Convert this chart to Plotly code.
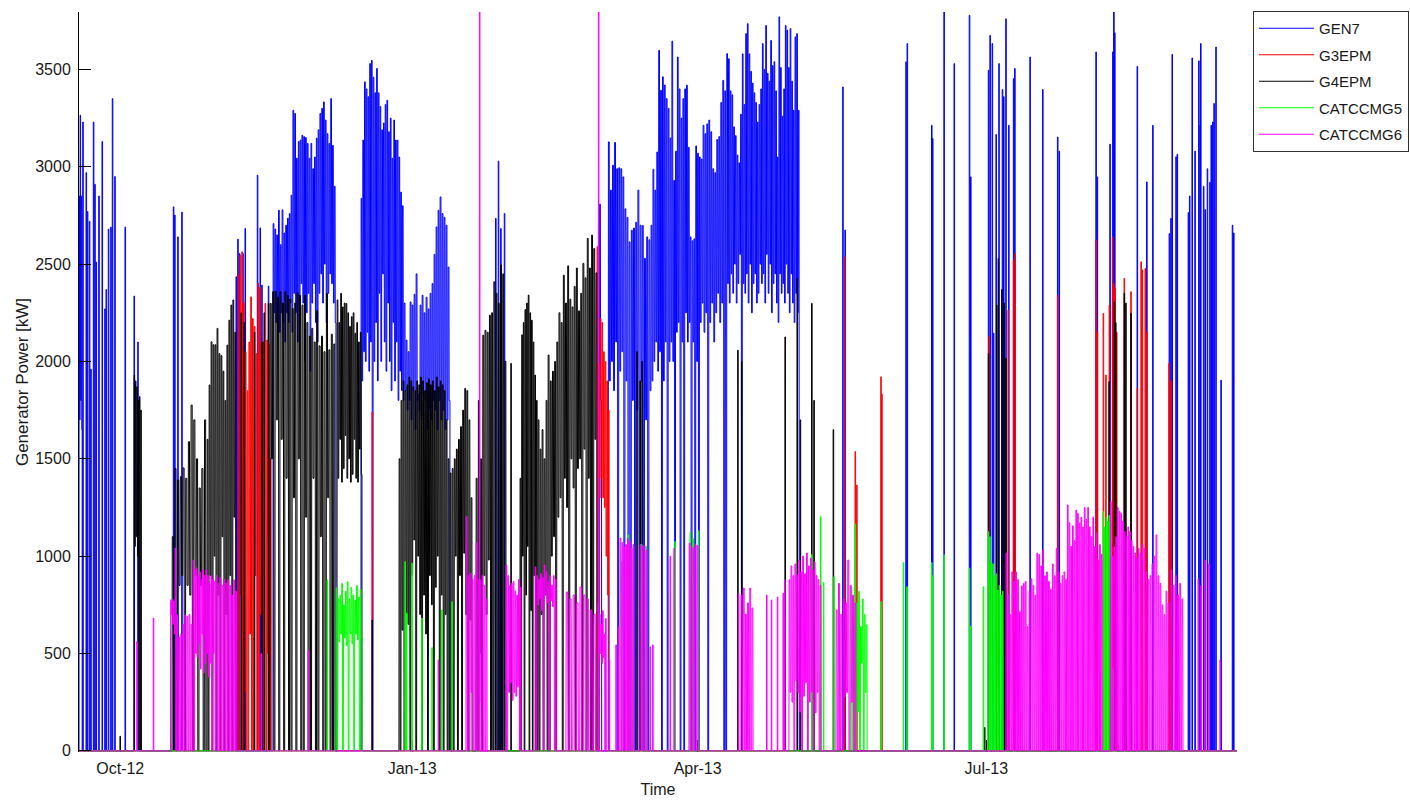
import pandas as pd
import plotly.graph_objects as go

# ---------------- axis / label data ----------------
BASE_DATE = "2012-09-18"          # left edge of the time axis
SPAN_DAYS = 365.0                 # axis spans one year
SERIES = ["GEN7", "G3EPM", "G4EPM", "CATCCMG5", "CATCCMG6"]
COLORS = ["#0000FF", "#FF0000", "#000000", "#00FF00", "#FF00FF"]
TICK_DATES = ["2012-10-01", "2013-01-01", "2013-04-01", "2013-07-01"]
TICK_TEXT = ["Oct-12", "Jan-13", "Apr-13", "Jul-13"]
Y_TICKS = [0, 500, 1000, 1500, 2000, 2500, 3000, 3500]
Y_MAX = 3795

# ---------------- GEN7 (blue) ----------------
# isolated runs: day offset from BASE_DATE, peak kW
GEN7_SPIKE_DAY = [1.17, 2.21, 2.62, 3.25, 3.69, 4.51, 4.95, 5.36, 6.21, 7.25,
                  8.10, 8.51, 9.23, 9.99, 10.49, 11.25, 14.50, 17.33, 18.50, 29.72,
                  30.13, 31.11, 32.37, 49.48, 50.02, 50.52, 51.59, 52.32, 56.19, 57.04,
                  57.58, 59.66, 131.29, 132.14, 132.90, 134.04, 240.7, 241.4, 260.6, 261.0,
                  268.7, 269.0, 272.6, 275.8, 280.6, 281.0, 286.6, 287.1, 287.8, 288.2,
                  289.0, 289.9, 291.0, 291.4, 292.1, 293.0, 294.5, 294.9, 299.7, 303.7,
                  308.4, 308.9, 320.5, 320.9, 324.9, 325.8, 326.1, 326.4, 333.5, 336.5,
                  338.4, 343.6, 344.1, 344.5, 345.7, 346.1, 349.6, 350.0, 350.8, 351.7,
                  352.9, 353.3, 353.5, 354.4, 354.9, 355.6, 356.4, 356.8, 357.3, 357.7,
                  358.3, 359.9, 363.5, 363.9]
GEN7_SPIKE_KW = [3230, 2970, 2770, 2720, 1960, 3230, 2910, 2510, 2850, 3130,
                 2270, 2370, 2680, 2690, 3350, 2950, 2690, 2336, 2100, 2794,
                 2752, 2640, 2767, 2435, 2628, 2555, 2555, 2683, 2957, 2686,
                 2392, 2387, 2735, 3029, 2683, 2760, 3410, 2675, 3539, 3633,
                 3213, 3145, 3795, 3530, 3778, 2948, 3496, 3675, 3633, 2145,
                 3166, 3530, 3397, 3360, 3760, 3213, 3453, 3505, 3564, 3397,
                 3153, 3080, 3590, 2948, 3116, 3590, 3795, 3688, 3516, 2922,
                 3213, 2657, 2735, 3577, 3051, 3064, 2765, 2850, 3559, 3080,
                 3544, 3213, 3633, 2900, 2780, 2990, 2920, 3213, 3230, 3325,
                 3615, 1904, 2700, 2660]

# continuous running periods: row edges (days), peaks and troughs per row
GEN7_B0_DAYS = [0.0, 1.0]
GEN7_B0_PEAK = [[2850, 3265, 2850]]
GEN7_B0_LOW = [[1700, 1800, 1650]]

GEN7_B1_DAYS = [61.14, 81.0]
GEN7_B1_PEAK = [[2708, 2680, 2650, 2777, 2600, 2779, 2660, 2700, 2736, 2760,
                 2854, 3290, 3274, 3044, 3130, 3137, 3162, 3155, 3150, 3120,
                 3044, 3120, 2990, 3050, 3147, 3190, 3274, 3300, 3333, 3240,
                 3170, 3120, 3350, 3110, 2900]]
GEN7_B1_LOW = [[2250, 2200, 2300, 2150, 2250, 2200, 2100, 2250, 2200, 2300,
                2150, 2350, 2250, 2100, 2200, 2400, 2300, 2000, 2250, 2350,
                1950, 2300, 2400, 2200, 2100, 2350, 2450, 2300, 2500, 2200,
                2350, 2450, 2400, 2300, 2200]]

GEN7_B2_DAYS = [88.87, 102.43, 116.92]
GEN7_B2_PEAK = [[2838, 3137, 3436, 3400, 3360, 3530, 3547, 3460, 3380, 3505,
                 3380, 3310, 3190, 3225, 3320, 3342, 3180, 3250, 3044, 3240,
                 3137, 3137, 3050, 2870, 2800],
                [2300, 2110, 2050, 2306, 2290, 2345, 2450, 1830, 2290, 2340,
                 2250, 2330, 2270, 2350, 2400, 2550, 2691, 2777, 2845, 2760,
                 2740, 2700, 2485]]
GEN7_B2_LOW = [[1900, 2050, 2000, 2150, 1950, 2100, 0, 2000, 2200, 1900,
                2350, 2000, 2450, 2100, 1950, 2300, 2000, 1850, 2200, 1900,
                2100, 1800, 1950, 1850, 1800],
               [1850, 1750, 1800, 1700, 1850, 1650, 1800, 1750, 1700, 1850,
                1800, 1650, 1750, 1700, 1800, 1750, 1650, 1800, 1700, 1750,
                1650, 1700, 1800]]

GEN7_B3_DAYS = [163.98, 166.81, 173.34, 180.27, 186.26, 192.03, 197.83,
                204.13, 209.58, 214.84, 220.08, 225.12, 227.23]
GEN7_B3_PEAK = [[2808, 0, 0, 0],
                [3128, 2880, 3008, 3125, 2990, 2995, 2990, 2948, 2784, 2740],
                [2614, 2674, 2685, 2715, 2880, 2700, 2698, 2530, 2640, 2625],
                [2700, 2987, 2880, 3076, 3598, 3393, 3462, 3420, 3350, 3300],
                [3148, 3645, 2930, 3080, 3564, 3400, 3250, 3350, 3400, 3419],
                [3100, 2640, 2620, 2630, 3107, 3070, 3050, 3040, 3213, 3170],
                [3220, 3240, 3180, 2990, 2970, 3140, 3155, 3330, 3444, 3390],
                [3581, 3555, 3390, 3370, 3205, 3160, 3060, 3020, 3270, 3580],
                [3320, 3684, 3735, 3580, 3490, 3430, 3380, 3330, 3230, 3320],
                [3400, 3633, 3500, 3726, 3480, 3440, 3649, 3520, 3540, 3390],
                [3050, 3770, 3510, 3260, 3400, 3726, 3702, 3510, 3710, 3440],
                [3290, 3667, 3684, 3290]]
GEN7_B3_LOW = [[1800, 0, 0, 0],
               [1900, 2000, 1850, 2100, 0, 1950, 2050, 0, 1900, 0],
               [0, 1800, 0, 1750, 0, 1900, 0, 1700, 0, 1850],
               [1900, 2000, 2100, 1950, 2050, 0, 1900, 2100, 0, 2000],
               [2100, 2000, 0, 2150, 2200, 0, 2100, 0, 2250, 2100],
               [2200, 0, 2100, 0, 2000, 0, 2200, 2300, 2150, 2250],
               [0, 2200, 2300, 2100, 2250, 2350, 2200, 2300, 0, 0],
               [2400, 2300, 2450, 2350, 2500, 2300, 2400, 2550, 0, 2400],
               [2350, 2450, 2300, 2500, 2250, 2400, 2450, 2300, 2350, 2500],
               [2400, 2450, 2300, 2550, 2350, 2500, 2250, 2400, 2450, 2300],
               [2200, 2450, 2350, 2400, 2300, 2500, 2350, 2250, 2450, 2300],
               [2200, 2350, 2250, 0]]

# ---------------- G3EPM (red) ----------------
G3_SPIKE_DAY = [92.34, 241.3, 244.6, 245.1, 252.7, 253.0, 286.8, 292.8, 294.5, 295.0,
                308.4, 320.5, 320.9, 322.8, 323.6, 324.7, 325.7, 326.1, 326.5, 327.0,
                329.4, 331.5, 333.5, 334.7, 335.1, 336.0, 336.5, 343.5, 344.1]
G3_SPIKE_KW = [1740, 2537, 1537, 1365, 1921, 1832, 2127, 2264, 2520, 2555,
               2341, 2623, 2152, 2247, 1930, 2290, 2640, 2400, 2375, 2150,
               2427, 2358, 1862, 2512, 2470, 2478, 2152, 1990, 1900]
G3_B1_DAYS = [50.11, 60.83]
G3_B1_PEAK = [[2443, 2546, 2563, 2300, 2050, 1850, 2100, 2332, 2220, 2180,
               2040, 2401, 2380, 2040, 2100, 2298, 2110, 2090, 1500]]
G3_B1_LOW = [[0, 800, 0, 300, 0, 0, 600, 0, 0, 900,
              0, 0, 700, 0, 0, 0, 500, 0, 0]]
G3_B2_DAYS = [163.25, 167.35]
G3_B2_PEAK = [[2590, 1990, 2221, 2200, 2050, 2000, 1900, 1750]]
G3_B2_LOW = [[0, 1300, 1400, 1300, 1250, 1000, 800, 0]]

# ---------------- G4EPM (black) ----------------
G4_SPIKE_DAY = [12.9, 51.06, 52.00, 55.25, 57.58, 58.30, 59.66, 92.34, 136.1, 175.8,
                176.8, 177.4, 207.6, 208.8, 222.5, 226.3, 227.3, 230.9, 231.6, 237.7,
                285.4, 286.6, 289.2, 289.7, 290.8, 291.5, 292.1, 324.6, 326.3, 326.7,
                329.4, 329.9, 331.5]
G4_SPIKE_KW = [75, 2250, 2200, 2150, 2100, 2250, 2300, 672, 1990, 2050,
               1900, 2000, 2058, 2000, 2126, 2427, 1700, 2298, 1800, 1650,
               120, 2040, 2290, 2529, 2370, 2300, 2016, 1896, 2306, 2200,
               2350, 2300, 2247]
G4_BA_DAYS = [17.33, 19.85]
G4_BA_PEAK = [[1930, 1900, 1870, 1800, 1820, 1750]]
G4_BA_LOW = [[1050, 1100, 1000, 0, 0, 0]]
G4_BB_DAYS = [29.31, 40.34, 49.70]
G4_BB_PEAK = [[1100, 1450, 1391, 1408, 1453, 1400, 1588, 1776, 1700, 1500, 1350, 1450, 1700],
              [1600, 1879, 2101, 2086, 2086, 2170, 2040, 2030, 1950, 1800, 2084, 2212, 2290, 2316, 2150]]
G4_BB_LOW = [[0, 0, 850, 900, 0, 850, 800, 0, 900, 0, 850, 0, 0],
             [0, 900, 0, 1000, 0, 800, 0, 1100, 0, 700, 0, 900, 0, 1200, 0]]
G4_BC_DAYS = [60.2, 81.0]
G4_BC_PEAK = [[2298, 2358, 2360, 2330, 2358, 2300, 2358, 2340, 2320, 2272,
               2300, 2353, 2340, 2290, 2340, 2200, 2130, 2170, 2100, 2260,
               2080, 2130, 2050, 2350, 2060, 2140, 2090]]
G4_BC_LOW = [[1500, 0, 1700, 0, 1600, 0, 1400, 0, 0, 1300,
              0, 1500, 0, 0, 1200, 0, 0, 1400, 0, 0,
              1100, 0, 0, 1300, 0, 0, 0]]
G4_BD_DAYS = [81.31, 89.19]
G4_BD_PEAK = [[2316, 2200, 2350, 2280, 2300, 2298, 2250, 2180, 2230, 2250, 2145, 2200, 2100, 2150]]
G4_BD_LOW = [[1400, 1600, 1380, 1450, 1620, 1400, 1500, 1380, 1420, 1600, 1400, 1380, 1550, 1420]]
G4_BE_DAYS = [100.85, 116.92, 124.17]
G4_BE_PEAK = [[1500, 1800, 1900, 1850, 1880, 1920, 1900, 1870, 1850, 1900,
               1880, 1920, 1900, 1850, 1890, 1910, 1880, 1900, 1850, 1920,
               1870, 1900, 1880, 1850, 1700, 1500],
              [1427, 1450, 1500, 1550, 1600, 1665, 1750, 1862, 1850, 1700, 1300]]
G4_BE_LOW = [[0, 620, 0, 700, 650, 0, 900, 1083, 0, 1000,
              700, 0, 800, 600, 0, 900, 750, 0, 840, 1000,
              0, 800, 0, 700, 0, 0],
             [0, 0, 1000, 0, 900, 0, 1015, 700, 0, 672, 0]]
G4_BF_DAYS = [125.12, 134.89]
G4_BF_PEAK = [[1400, 1800, 1500, 2135, 2160, 2150, 2238, 2250, 2409, 2350, 2300, 2495, 2450, 2000]]
G4_BF_LOW = [[0, 500, 0, 900, 700, 980, 0, 0, 0, 0, 0, 0, 0, 0]]
G4_BG_DAYS = [138.98, 144.66, 147.81, 163.57]
G4_BG_PEAK = [[1400, 2137, 2200, 2267, 2300, 2341, 2250, 2212, 2100, 1930, 1800],
              [1700, 1550, 1650, 1500, 1800],
              [2033, 1900, 1950, 2000, 2100, 2250, 2200, 2443, 2300, 2491,
               2320, 2280, 2385, 2480, 2260, 2350, 2504, 2430, 2632, 2480,
               2649, 2580, 2455]]
G4_BG_LOW = [[0, 1000, 0, 800, 1050, 0, 720, 0, 900, 0, 0],
             [0, 700, 0, 800, 0],
             [0, 1000, 1100, 0, 1200, 1300, 0, 1400, 1250, 0,
              1500, 1350, 0, 1450, 1500, 0, 1550, 0, 1400, 0,
              0, 1600, 0]]

# ---------------- CATCCMG5 (green) ----------------
G5_SPIKE_DAY = [78.2, 102.7, 103.2, 104.9, 108.0, 111.2, 114.3, 117.5, 171.0, 173.1,
                174.0, 174.6, 177.3, 178.7, 187.8, 192.6, 193.5, 195.2, 230.9, 233.7,
                234.6, 237.9, 252.7, 259.8, 260.9, 268.7, 269.0, 272.6, 280.6, 281.0,
                285.0, 325.9]
G5_SPIKE_KW = [878, 972, 708, 964, 682, 530, 724, 766, 972, 1109,
               1040, 1060, 1060, 1050, 1075, 1124, 1090, 1130, 1008, 1203,
               864, 895, 766, 967, 843, 967, 900, 1006, 939, 641,
               843, 426]
G5_BA_DAYS = [81.0, 89.19]
G5_BA_PEAK = [[837, 780, 800, 860, 750, 820, 868, 780, 840, 800, 775, 850, 790, 830]]
G5_BA_LOW = [[0, 560, 600, 0, 580, 540, 0, 600, 550, 0, 600, 570, 0, 580]]
G5_BB_DAYS = [243.3, 248.66]
G5_BB_PEAK = [[842, 700, 1165, 760, 820, 640, 780, 700, 647]]
G5_BB_LOW = [[0, 300, 0, 200, 0, 450, 0, 300, 0]]
G5_BC_DAYS = [286.48, 291.52]
G5_BC_PEAK = [[1126, 1100, 967, 960, 900, 910, 826, 850, 800, 820]]
G5_BC_LOW = [[0, 0, 0, 0, 0, 0, 0, 0, 0, 0]]
G5_BD_DAYS = [322.72, 325.09]
G5_BD_PEAK = [[1228, 1150, 1200, 1180, 1210]]
G5_BD_LOW = [[0, 0, 0, 0, 0]]

# ---------------- CATCCMG6 (magenta) ----------------
G6_SPIKE_DAY = [18.2, 23.4, 57.4, 72.2, 113.2, 126.2, 163.7, 167.1, 169.2, 170.0,
                180.0, 180.8, 186.3, 187.5, 207.8, 216.7, 218.2, 220.1, 221.9, 222.4,
                352.7, 353.6, 354.8, 356.1, 359.6]
G6_SPIKE_KW = [561, 682, 500, 518, 467, 3800, 3800, 467, 544, 637,
               534, 544, 1000, 1040, 810, 800, 775, 790, 810, 878,
               883, 850, 980, 960, 467]
G6_BA_DAYS = [28.84, 30.73, 35.93, 42.55, 49.95]
G6_BA_PEAK = [[775, 780, 770, 1042],
              [700, 585, 600, 650, 698, 690, 700, 650],
              [980, 930, 940, 900, 920, 880, 930, 900, 930, 900, 862, 900, 880],
              [870, 900, 860, 890, 850, 880, 862, 878, 850, 800, 878, 820]]
G6_BA_LOW = [[700, 650, 600, 0],
             [0, 0, 0, 0, 0, 0, 0, 0],
             [0, 500, 480, 550, 420, 600, 400, 450, 500, 380, 450, 0, 500],
             [0, 0, 0, 0, 0, 0, 0, 0, 0, 0, 0, 0]]
G6_BB_DAYS = [121.97, 128.90]
G6_BB_PEAK = [[1203, 900, 913, 880, 900, 1067, 880, 878, 900, 850, 780]]
G6_BB_LOW = [[0, 0, 300, 0, 0, 0, 250, 0, 0, 0, 0]]
G6_BC_DAYS = [134.57, 139.61]
G6_BC_PEAK = [[955, 900, 850, 860, 870, 820, 800, 880, 840]]
G6_BC_LOW = [[0, 300, 350, 260, 300, 280, 330, 0, 0]]
G6_BD_DAYS = [143.71, 150.65]
G6_BD_PEAK = [[945, 900, 880, 910, 890, 955, 920, 870, 900, 850, 900, 880]]
G6_BD_LOW = [[0, 750, 780, 720, 0, 800, 760, 0, 770, 740, 0, 0]]
G6_BE_DAYS = [153.48, 163.25]
G6_BE_PEAK = [[816, 780, 800, 760, 842, 800, 780, 724, 700]]
G6_BE_LOW = [[0, 0, 0, 0, 0, 0, 0, 0, 0]]
G6_BF_DAYS = [163.57, 166.40]
G6_BF_PEAK = [[760, 700, 650, 720, 600, 680]]
G6_BF_LOW = [[483, 500, 450, 480, 0, 0]]
G6_BG_DAYS = [170.50, 175.23]
G6_BG_PEAK = [[1093, 1070, 1047, 1060, 1090, 1075, 1040, 1060]]
G6_BG_LOW = [[0, 0, 0, 0, 0, 0, 0, 0]]
G6_BH_DAYS = [176.80, 179.33]
G6_BH_PEAK = [[1060, 1050, 1055, 1030]]
G6_BH_LOW = [[0, 0, 0, 0]]
G6_BI_DAYS = [192.25, 195.40]
G6_BI_PEAK = [[1067, 1050, 1042, 1060, 1055]]
G6_BI_LOW = [[0, 0, 0, 0, 0]]
G6_BJ_DAYS = [208.64, 212.73]
G6_BJ_PEAK = [[800, 836, 702, 760, 836, 734]]
G6_BJ_LOW = [[0, 0, 0, 0, 0, 0]]
G6_BK_DAYS = [223.76, 234.16]
G6_BK_PEAK = [[880, 950, 900, 960, 903, 980, 920, 1000, 910, 1016, 950, 990, 930, 970, 900, 880, 850]]
G6_BK_LOW = [[300, 250, 0, 360, 300, 200, 0, 280, 350, 0, 250, 300, 0, 195, 300, 0, 0]]
G6_BL_DAYS = [238.58, 245.20]
G6_BL_PEAK = [[724, 860, 700, 780, 760, 980, 850, 800, 760]]
G6_BL_LOW = [[0, 0, 0, 277, 300, 0, 250, 0, 0]]
G6_BM_DAYS = [292.15, 300.03, 310.43, 322.72]
G6_BM_PEAK = [[1016, 800, 702, 919, 870, 919, 880, 715, 847, 860, 870, 640, 820],
              [883, 850, 800, 1016, 1008, 950, 1032, 900, 919, 870, 830, 960, 900, 1040, 919, 860, 900],
              [919, 880, 1263, 1172, 1050, 1156, 1080, 1237, 1220, 1170,
               1200, 1150, 1250, 1190, 1250, 1150, 1100, 1200, 1050, 1120,
               980, 1060, 1010]]
G6_BM_LOW = [[0, 0, 0, 0, 0, 0, 0, 0, 0, 0, 0, 0, 0],
             [0, 0, 0, 0, 0, 0, 0, 0, 0, 0, 0, 0, 0, 0, 0, 0, 0],
             [0, 0, 0, 0, 0, 0, 0, 0, 0, 0, 0, 0, 0, 0, 0, 0, 0, 0, 0, 0, 0, 0, 0]]
G6_BN_DAYS = [325.09, 334.38, 343.84]
G6_BN_PEAK = [[1280, 1000, 1049, 1100, 1250, 1230, 1220, 1180, 1126, 1100,
               1150, 1126, 1080, 1050, 1016, 990, 1040],
              [1016, 1060, 1040, 919, 880, 900, 960, 1000, 1109, 900,
               860, 750, 700, 820, 760]]
G6_BN_LOW = [[0, 0, 0, 0, 0, 0, 0, 0, 0, 0, 0, 0, 0, 0, 0, 0, 0],
             [0, 0, 0, 0, 0, 0, 0, 0, 0, 0, 0, 0, 0, 0, 0]]
G6_BO_DAYS = [344.15, 348.25]
G6_BO_PEAK = [[929, 850, 900, 800, 860, 780]]
G6_BO_LOW = [[0, 0, 0, 0, 0, 0]]


# ---------------- helpers that turn the readings into a line ----------------
def spike_events(days, kws, width=0.18):
    return [[(d, 0.0), (d, v), (d + width, v), (d + width, 0.0)]
            for d, v in zip(days, kws)]


def block_event(edges, peak_rows, low_rows):
    pts = [(edges[0], 0.0)]
    for j, (pk, lo) in enumerate(zip(peak_rows, low_rows)):
        d0, d1 = edges[j], edges[j + 1]
        s = (d1 - d0) / len(pk)
        for i, (p, l) in enumerate(zip(pk, lo)):
            t = d0 + i * s
            pts += [(t + 0.1 * s, p), (t + 0.5 * s, p), (t + 0.6 * s, l), (t + s, l)]
    pts.append((edges[-1], 0.0))
    return pts


def build(spikes, blocks):
    events = spike_events(*spikes) + [block_event(*b) for b in blocks]
    events.sort(key=lambda e: e[0][0])
    pts = [(0.0, 0.0)]
    for e in events:
        pts += e
    pts.append((SPAN_DAYS, 0.0))
    base = pd.Timestamp(BASE_DATE)
    xs = [base + pd.Timedelta(days=p[0]) for p in pts]
    ys = [p[1] for p in pts]
    return xs, ys


DATA = {
    "GEN7": ((GEN7_SPIKE_DAY, GEN7_SPIKE_KW),
             [(GEN7_B0_DAYS, GEN7_B0_PEAK, GEN7_B0_LOW),
              (GEN7_B1_DAYS, GEN7_B1_PEAK, GEN7_B1_LOW),
              (GEN7_B2_DAYS, GEN7_B2_PEAK, GEN7_B2_LOW),
              (GEN7_B3_DAYS, GEN7_B3_PEAK, GEN7_B3_LOW)]),
    "G3EPM": ((G3_SPIKE_DAY, G3_SPIKE_KW),
              [(G3_B1_DAYS, G3_B1_PEAK, G3_B1_LOW),
               (G3_B2_DAYS, G3_B2_PEAK, G3_B2_LOW)]),
    "G4EPM": ((G4_SPIKE_DAY, G4_SPIKE_KW),
              [(G4_BA_DAYS, G4_BA_PEAK, G4_BA_LOW),
               (G4_BB_DAYS, G4_BB_PEAK, G4_BB_LOW),
               (G4_BC_DAYS, G4_BC_PEAK, G4_BC_LOW),
               (G4_BD_DAYS, G4_BD_PEAK, G4_BD_LOW),
               (G4_BE_DAYS, G4_BE_PEAK, G4_BE_LOW),
               (G4_BF_DAYS, G4_BF_PEAK, G4_BF_LOW),
               (G4_BG_DAYS, G4_BG_PEAK, G4_BG_LOW)]),
    "CATCCMG5": ((G5_SPIKE_DAY, G5_SPIKE_KW),
                 [(G5_BA_DAYS, G5_BA_PEAK, G5_BA_LOW),
                  (G5_BB_DAYS, G5_BB_PEAK, G5_BB_LOW),
                  (G5_BC_DAYS, G5_BC_PEAK, G5_BC_LOW),
                  (G5_BD_DAYS, G5_BD_PEAK, G5_BD_LOW)]),
    "CATCCMG6": ((G6_SPIKE_DAY, G6_SPIKE_KW),
                 [(G6_BA_DAYS, G6_BA_PEAK, G6_BA_LOW),
                  (G6_BB_DAYS, G6_BB_PEAK, G6_BB_LOW),
                  (G6_BC_DAYS, G6_BC_PEAK, G6_BC_LOW),
                  (G6_BD_DAYS, G6_BD_PEAK, G6_BD_LOW),
                  (G6_BE_DAYS, G6_BE_PEAK, G6_BE_LOW),
                  (G6_BF_DAYS, G6_BF_PEAK, G6_BF_LOW),
                  (G6_BG_DAYS, G6_BG_PEAK, G6_BG_LOW),
                  (G6_BH_DAYS, G6_BH_PEAK, G6_BH_LOW),
                  (G6_BI_DAYS, G6_BI_PEAK, G6_BI_LOW),
                  (G6_BJ_DAYS, G6_BJ_PEAK, G6_BJ_LOW),
                  (G6_BK_DAYS, G6_BK_PEAK, G6_BK_LOW),
                  (G6_BL_DAYS, G6_BL_PEAK, G6_BL_LOW),
                  (G6_BM_DAYS, G6_BM_PEAK, G6_BM_LOW),
                  (G6_BN_DAYS, G6_BN_PEAK, G6_BN_LOW),
                  (G6_BO_DAYS, G6_BO_PEAK, G6_BO_LOW)]),
}

FONT = "Liberation Sans, Arial, Helvetica, sans-serif"

fig = go.Figure()
for name, color in zip(SERIES, COLORS):
    spikes, blocks = DATA[name]
    xs, ys = build(spikes, blocks)
    fig.add_trace(go.Scatter(x=xs, y=ys, mode="lines", name=name, legendgroup=name,
                             line=dict(color=color, width=1, simplify=False),
                             hoverinfo="skip"))

base = pd.Timestamp(BASE_DATE)
fig.update_layout(
    width=1410, height=802,
    margin=dict(l=79, r=173, t=12, b=50, autoexpand=False),
    paper_bgcolor="white", plot_bgcolor="white",
    font=dict(family=FONT, size=15, color="#1a1a1a"),
    showlegend=True,
    legend=dict(xref="container", yref="container",
                x=1253 / 1410, y=1 - 11 / 802, xanchor="left", yanchor="top",
                bgcolor="white", bordercolor="#333333", borderwidth=1,
                font=dict(family=FONT, size=15, color="#1a1a1a"),
                tracegroupgap=4, itemwidth=55),
    xaxis=dict(type="date",
               range=[base, base + pd.Timedelta(days=SPAN_DAYS)],
               tickvals=pd.to_datetime(TICK_DATES), ticktext=TICK_TEXT,
               tickfont=dict(size=16),
               ticks="inside", ticklen=12, tickcolor="black",
               showline=False, showgrid=False, zeroline=False,
               layer="below traces", ticklabelstandoff=5,
               title=dict(text="Time", standoff=7, font=dict(size=16))),
    yaxis=dict(range=[-6, Y_MAX], tickvals=Y_TICKS,
               tickfont=dict(size=16),
               ticks="inside", ticklen=12, tickcolor="black",
               showline=True, linecolor="black", linewidth=1,
               showgrid=False, zeroline=False, ticklabelstandoff=4,
               title=dict(text="Generator Power [kW]", standoff=2, font=dict(size=17))),
)

fig.write_html("out.html", config={"displayModeBar": False},
               post_script="document.body.style.margin='0';")
